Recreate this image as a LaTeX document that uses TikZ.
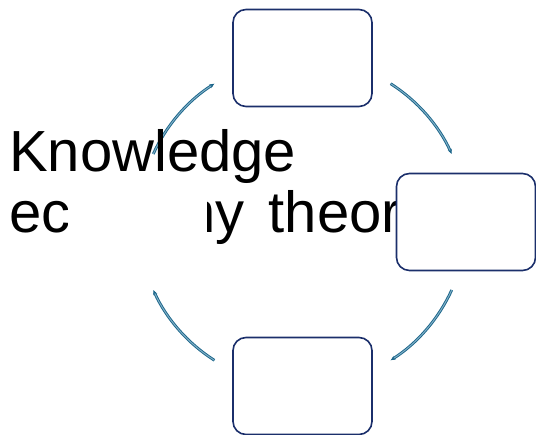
\documentclass[tikz,border=0pt]{standalone}
\usepackage{fontspec}
\setmainfont[WordSpace=1.5]{Liberation Sans}
\usetikzlibrary{arrows.meta}
\definecolor{boxline}{HTML}{1B2F6B}
\definecolor{arrline}{HTML}{1A6489}
\definecolor{arrfill}{HTML}{7FAFC6}
\tikzset{
  cyclebox/.style={draw=boxline, line width=1.6pt, fill=white, rounded corners=13pt,
    minimum width=139pt, minimum height=97pt, inner sep=0pt},
  hiddenbox/.style={fill=white, minimum width=139pt, minimum height=98pt, inner sep=0pt},
  cyclearrow/.style={draw=arrline, line width=0.9pt, double=arrfill, double distance=1pt,
    -{Stealth[length=5pt,width=4pt,fill=arrline]}},
  bigtext/.style={font=\fontsize{58}{61}\selectfont, align=left, inner sep=0pt}
}
\begin{document}
\begin{tikzpicture}[x=1pt,y=1pt]
\useasboundingbox (0,0) rectangle (536,435);
\coordinate (c) at (302.5,213);
% arrows (clockwise)
\draw[cyclearrow] (c) ++(57.5:164) arc[start angle=57.5,end angle=24.5,radius=164];
\draw[cyclearrow] (c) ++(-24.5:164) arc[start angle=-24.5,end angle=-57.5,radius=164];
\draw[cyclearrow] (c) ++(237.5:164) arc[start angle=237.5,end angle=204.5,radius=164];
\draw[cyclearrow] (c) ++(155.5:164) arc[start angle=155.5,end angle=122.5,radius=164];
% text
\node[bigtext, anchor=base west] (t) at (9,202) {Knowledge\\economy theory};
% boxes
\node[hiddenbox] (left) at (137.5,213) {};
\node[cyclebox] (top) at (302.5,377) {};
\node[cyclebox] (right) at (466,213) {};
\node[cyclebox] (bottom) at (302.5,49) {};
\end{tikzpicture}
\end{document}
